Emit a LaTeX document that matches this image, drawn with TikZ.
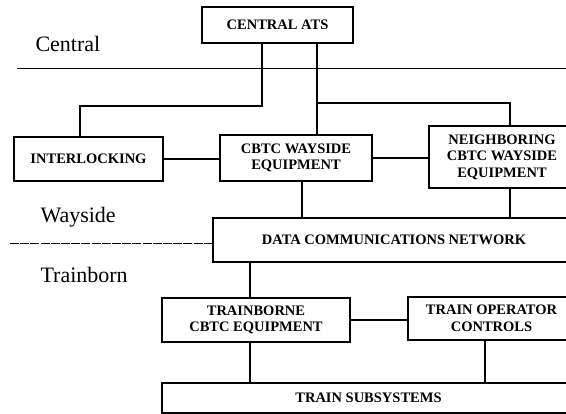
\documentclass[tikz,border=0pt]{standalone}
\usepackage{fontspec}
\setmainfont{Liberation Serif}
\usepackage{tikz}
\usetikzlibrary{positioning, calc}
\tikzset{
  blk/.style={rectangle, draw, line width=1.5pt, inner sep=0pt,
              align=center, font=\fontsize{14.5}{16.5}\selectfont\bfseries},
  zone/.style={font=\fontsize{22}{24}\selectfont, anchor=base west},
  link/.style={line width=1.8pt},
  sepline/.style={line width=0.9pt},
  sepdash/.style={line width=0.9pt, dash pattern=on 9pt off 1.2pt},
}

\begin{document}
\begin{tikzpicture}[x=1pt, y=-1pt]

  \useasboundingbox (0,0) rectangle (566,414);
  \clip (0,0) rectangle (566,414);

  % zones
  \node[zone] (zc) at (32,52)  {Central};
  \node[zone] (zw) at (37,223) {Wayside};
  \node[zone] (zt) at (37,283) {Trainborn};

  \draw[sepline] (17,68) -- (566,68);

  % boxes
  \node[blk, minimum width=151pt, minimum height=36pt] (ats) at (277.5,25)
    {CENTRAL ATS};
  \node[blk, minimum width=149pt, minimum height=44pt] (ilk) at (88.5,159)
    {INTERLOCKING};
  \node[blk, minimum width=152pt, minimum height=46pt] (wse) at (296,158)
    {CBTC WAYSIDE\\EQUIPMENT};
  \node[blk, minimum width=146pt, minimum height=62pt] (nbr) at (502,157)
    {NEIGHBORING\\CBTC WAYSIDE\\EQUIPMENT};
  \node[blk, minimum width=362pt, minimum height=44pt] (dcn) at (394,240)
    {DATA COMMUNICATIONS NETWORK};
  \node[blk, minimum width=188pt, minimum height=44pt] (tbe) at (256,320)
    {TRAINBORNE\\CBTC EQUIPMENT};
  \node[blk, minimum width=167pt, minimum height=43pt] (toc) at (491.5,318.5)
    {TRAIN OPERATOR\\CONTROLS};
  \node[blk, minimum width=413pt, minimum height=30pt] (tss) at (368.5,398)
    {TRAIN SUBSYSTEMS};

  \draw[sepdash] (10,243) -- (10,243 -| dcn.west);

  % links
  \draw[link] ([xshift=-15.5pt]ats.south) -- ++(0,62) -| ([xshift=-8.5pt]ilk.north);
  \draw[link] ([xshift=39.5pt]ats.south) -- ([xshift=39.5pt]ats.south |- wse.north);
  \draw[link] ([xshift=39.5pt]ats.south) ++(0,59) -| ([xshift=8pt]nbr.north);
  \draw[link] (ilk.east) -- (ilk.east -| wse.west);
  \draw[link] (wse.east) -- (wse.east -| nbr.west);
  \draw[link] ([xshift=6pt]wse.south) -- ([xshift=6pt]wse.south |- dcn.north);
  \draw[link] ([xshift=8pt]nbr.south) -- ([xshift=8pt]nbr.south |- dcn.north);
  \draw[link] ([xshift=-6pt]tbe.north) -- ([xshift=-6pt]tbe.north |- dcn.south);
  \draw[link] (tbe.east) -- (tbe.east -| toc.west);
  \draw[link] ([xshift=-6pt]tbe.south) -- ([xshift=-6pt]tbe.south |- tss.north);
  \draw[link] ([xshift=-6.5pt]toc.south) -- ([xshift=-6.5pt]toc.south |- tss.north);

\end{tikzpicture}
\end{document}
